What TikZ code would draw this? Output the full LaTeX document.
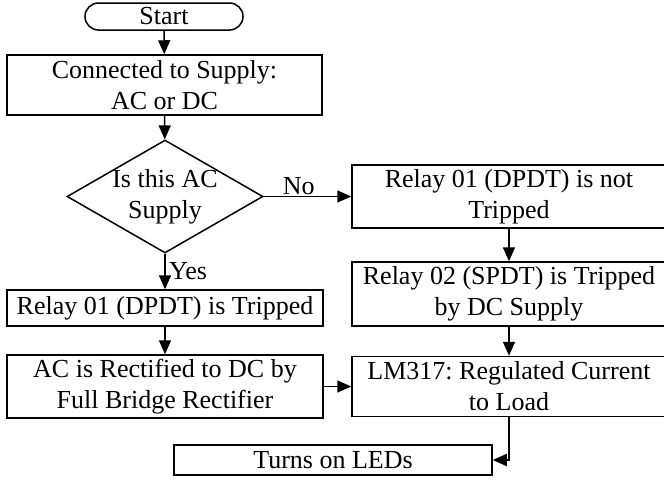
\documentclass[tikz,border=0pt]{standalone}
\usepackage{fontspec}
\setmainfont{Liberation Serif}
\usetikzlibrary{shapes.geometric,shapes.misc,arrows.meta}
\frenchspacing

\begin{document}
\begin{tikzpicture}[x=1pt, y=-1pt, line width=1.5pt,
        font=\fontsize{26}{31}\selectfont,
        >={Triangle[length=14pt,width=12pt]},
        box/.style = {draw, rectangle, align=center, inner sep=0pt},
        term/.style = {draw, rounded rectangle, inner sep=0pt, minimum width=158pt, minimum height=27pt},
        decision/.style = {draw, diamond, inner sep=0pt, minimum width=196pt, minimum height=113pt}]
        \useasboundingbox (0,0) rectangle (664,482);

        \node[term] (1) at (164,16.5) {Start};
        \node[box, minimum width=315pt, minimum height=60pt] (2) at (164.5,85) {Connected to Supply:\\AC or DC};
        \node[decision] (3) at (165,196.5) {};
        \node[align=center] (3t) at (3) {Is this AC\\Supply};
        \node[box, minimum width=316pt, minimum height=36pt] (4) at (165,308) {Relay 01 (DPDT) is Tripped};
        \node[box, minimum width=316pt, minimum height=63pt] (6) at (165,386.5) {AC is Rectified to DC by\\Full Bridge Rectifier};
        \node[box, minimum width=314pt, minimum height=63pt] (5) at (509,196.5) {Relay 01 (DPDT) is not\\Tripped};
        \node[box, minimum width=314pt, minimum height=64pt] (7) at (509,294) {Relay 02 (SPDT) is Tripped\\by DC Supply};
        \node[box, minimum width=314pt, minimum height=60pt] (8) at (509,386.5) {LM317: Regulated Current\\to Load};
        \node[box, minimum width=318pt, minimum height=30pt] (9) at (333,460) {Turns on LEDs};

        \draw[->] (1) -- (2);
        \draw[->] (2) -- (3);
        \draw[->] (3) -- (4) node [midway, right] {Yes};
        \draw[->] (3) -- (5) node [pos=0.4, above, inner sep=1pt] {No};
        \draw[->] (4) -- (6);
        \draw[->] (5) -- (7);
        \draw[->] (7) -- (8);
        \draw[->] (6) -- (8);
        \draw[->] (8) |- (9);

    \end{tikzpicture}
\end{document}
